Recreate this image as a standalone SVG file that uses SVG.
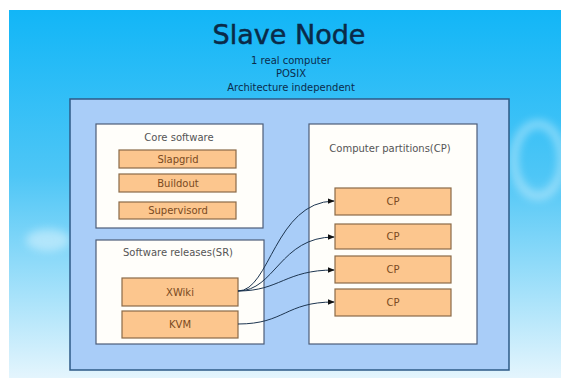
<svg xmlns="http://www.w3.org/2000/svg" width="561" height="378" viewBox="0 0 561 378">
<defs>
<linearGradient id="sky" x1="0" y1="0" x2="0" y2="1">
<stop offset="0" stop-color="#12b6f7"/>
<stop offset="0.45" stop-color="#4ec6f6"/>
<stop offset="1" stop-color="#e4f5fd"/>
</linearGradient>
<filter id="blur" x="-50%" y="-50%" width="200%" height="200%"><feGaussianBlur stdDeviation="4"/></filter>
<marker id="arr" viewBox="0 0 10 10" refX="9" refY="5" markerWidth="7" markerHeight="7" markerUnits="userSpaceOnUse" orient="auto">
<path d="M0,1 L10,5 L0,9 z" fill="#111"/>
</marker>
<style>
.t{font-family:"DejaVu Sans","Liberation Sans",sans-serif;text-anchor:middle}
.lbl{font-size:10px;fill:#555}
.item{fill:#fcc68e;stroke:#8a6a48;stroke-width:1.2}
.itxt{font-size:10px;fill:#7a4a22}
.grp{fill:#fffefa;stroke:#4d5d78;stroke-width:1.2}
.con{fill:none;stroke:#1d3550;stroke-width:1}
</style>
</defs>
<rect x="0" y="0" width="561" height="378" fill="#ffffff"/>
<rect x="9" y="10" width="552" height="368" fill="url(#sky)"/>
<g opacity="0.4" filter="url(#blur)">
<ellipse cx="48" cy="240" rx="22" ry="11" fill="#ffffff"/>
<ellipse cx="538" cy="160" rx="24" ry="36" fill="none" stroke="#ffffff" stroke-width="8"/>
</g>
<g id="title">
<text class="t" x="289" y="44" font-size="27" fill="#0a2a48" stroke="#0a2a48" stroke-width="0.5">Slave Node</text>
<text class="t" x="291" y="64" font-size="10" fill="#0b2c4c">1 real computer</text>
<text class="t" x="291" y="77" font-size="10" fill="#0b2c4c">POSIX</text>
<text class="t" x="291" y="91" font-size="10" fill="#0b2c4c">Architecture independent</text>
</g>
<g id="panel">
<rect x="70" y="99" width="439" height="271" fill="#a9cdf8" stroke="#2e5a86" stroke-width="1.5"/>
</g>
<g id="core">
<rect class="grp" x="96" y="124" width="167" height="104"/>
<text class="t lbl" x="179" y="141">Core software</text>
</g>
<g id="slapgrid"><rect class="item" x="119" y="150" width="117" height="18"/><text class="t itxt" x="178" y="163">Slapgrid</text></g>
<g id="buildout"><rect class="item" x="119" y="174" width="117" height="18"/><text class="t itxt" x="178" y="187">Buildout</text></g>
<g id="supervisord"><rect class="item" x="119" y="202" width="117" height="17"/><text class="t itxt" x="178" y="214">Supervisord</text></g>
<g id="sr">
<rect class="grp" x="96" y="240" width="168" height="104"/>
<text class="t lbl" x="178" y="256">Software releases(SR)</text>
</g>
<g id="xwiki"><rect class="item" x="122" y="278" width="116" height="28"/><text class="t itxt" x="180" y="296">XWiki</text></g>
<g id="kvm"><rect class="item" x="122" y="311" width="116" height="27"/><text class="t itxt" x="180" y="328">KVM</text></g>
<g id="cp">
<rect class="grp" x="309" y="124" width="168" height="220"/>
<text class="t lbl" x="390" y="152">Computer partitions(CP)</text>
</g>
<g id="cp1"><rect class="item" x="335" y="188" width="116" height="27"/><text class="t itxt" x="393" y="205">CP</text></g>
<g id="cp2"><rect class="item" x="335" y="224" width="116" height="25"/><text class="t itxt" x="393" y="240">CP</text></g>
<g id="cp3"><rect class="item" x="335" y="256" width="116" height="27"/><text class="t itxt" x="393" y="273">CP</text></g>
<g id="cp4"><rect class="item" x="335" y="289" width="116" height="27"/><text class="t itxt" x="393" y="306">CP</text></g>
<g id="connectors">
<path class="con" d="M238,291 C270,291 275,202 334,201" marker-end="url(#arr)"/>
<path class="con" d="M238,291 C275,291 280,237 334,237" marker-end="url(#arr)"/>
<path class="con" d="M238,291 C280,291 285,270 334,270" marker-end="url(#arr)"/>
<path class="con" d="M238,324 C285,324 285,302 334,302" marker-end="url(#arr)"/>
</g>
</svg>
